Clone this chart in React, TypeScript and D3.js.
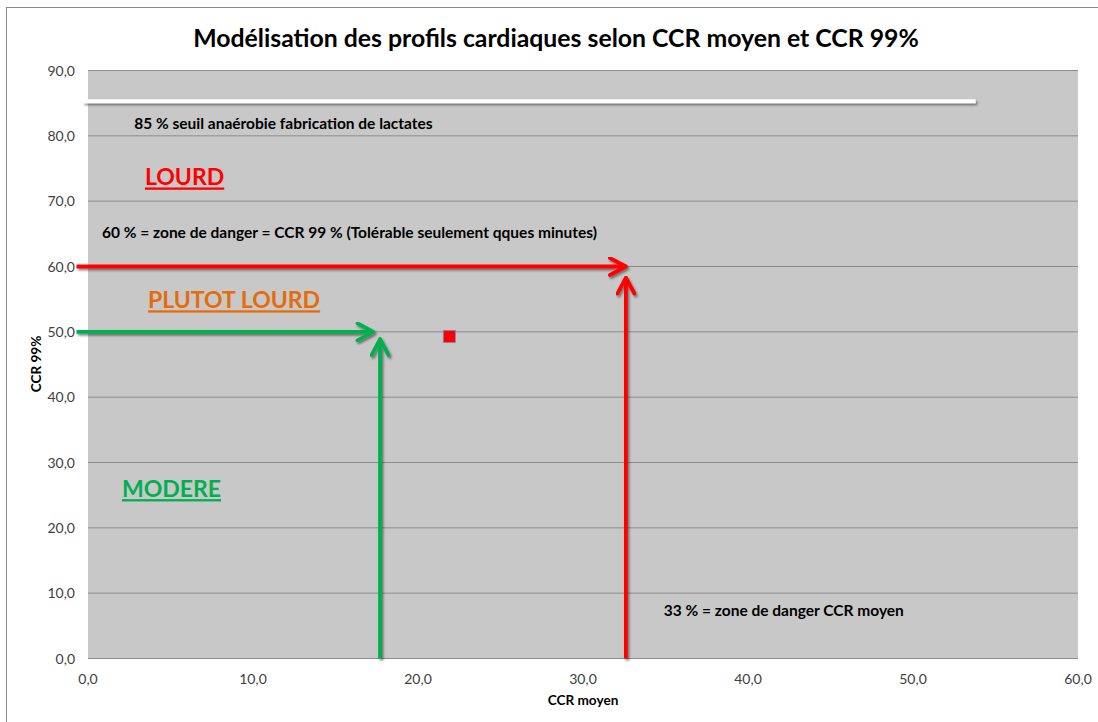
import * as d3 from "d3";

const xTicks = [0, 10, 20, 30, 40, 50, 60];
const yTicks = [0, 10, 20, 30, 40, 50, 60, 70, 80, 90];

// seuil 85 % (ligne blanche)
const seuilPts: [number, number][] = [[-0.3, 85.3], [53.8, 85.3]];
// zone de danger CCR 99 % / CCR moyen (flèches rouges)
const rougeH: [number, number][] = [[-0.7, 60], [32.6, 60]];
const rougeV: [number, number][] = [[32.6, 0], [32.6, 58.3]];
// limite modéré (flèches vertes)
const vertH: [number, number][] = [[-0.7, 50], [17.3, 50]];
const vertV: [number, number][] = [[17.7, 0], [17.7, 48.9]];
// profil mesuré (CCR moyen, CCR 99 %)
const profils: [number, number][] = [[21.9, 49.3]];

const zoneLabels = ["LOURD", "PLUTOT LOURD", "MODERE"];
const zoneAnchors: [number, number][] = [[3.45, 72.4], [3.64, 53.6], [2.06, 24.7]];
const noteLabels = [
  "85 % seuil anaérobie fabrication de lactates",
  "60 % = zone de danger = CCR 99 % (Tolérable seulement qques minutes)",
  "33 % = zone de danger CCR moyen",
];
const noteAnchors: [number, number][] = [[2.8, 81.1], [0.85, 64.3], [34.9, 6.5]];

const W = 1098;
const H = 722;
const FONT = "Lato, 'Open Sans', sans-serif";

const fr = d3.formatLocale({ decimal: ",", thousands: " ", grouping: [3], currency: ["", " €"] });
const fmt = fr.format(".1f");

export default function App() {
  const x = d3.scaleLinear().domain([0, 60]).range([88, 1078]);
  const y = d3.scaleLinear().domain([0, 90]).range([658.5, 70.5]);
  const line = d3.line<[number, number]>().x(d => x(d[0])).y(d => y(d[1]));

  const zoneColors = ["#FF0000", "#E46C0A", "#00B050"];

  return (
    <svg width={W} height={H} style={{ position: "absolute", left: 0, top: 0, background: "#fff" }}>
      <defs>
        <filter id="ombre" x="-10%" y="-10%" width="120%" height="120%">
          <feDropShadow dx="1.5" dy="2" stdDeviation="1.3" floodColor="#000" floodOpacity="0.45" />
        </filter>
        {[["rouge", "#FF0000"], ["vert", "#00B050"]].map(([id, c]) => (
          <marker key={id} id={`fl-${id}`} viewBox="0 0 20 20" refX="18" refY="10"
            markerUnits="userSpaceOnUse" markerWidth="20" markerHeight="20" orient="auto">
            <path d="M2,1.5 L18,10 L2,18.5" fill="none" stroke={c} strokeWidth="3.8" strokeLinecap="round" strokeLinejoin="round" />
          </marker>
        ))}
      </defs>

      <rect x={6.5} y={7.5} width={W + 20} height={H + 20} fill="#fff" stroke="#8a8a8a" strokeWidth={1} />

      <text x={556} y={47} textAnchor="middle" fontFamily={FONT} fontWeight="bold" fontSize={24.8} fill="#000">
        Modélisation des profils cardiaques selon CCR moyen et CCR 99%
      </text>

      <rect x={x(0)} y={y(90)} width={x(60) - x(0)} height={y(0) - y(90)} fill="#C8C8C8" />

      {yTicks.map(t => (
        <g key={t}>
          <line x1={x(0)} x2={x(60)} y1={y(t)} y2={y(t)} stroke="#8C8C8C" strokeWidth={1} />
          <text x={75} y={y(t) + 5} textAnchor="end" fontFamily={FONT} fontSize={14} fill="#404040">{fmt(t)}</text>
        </g>
      ))}
      {xTicks.map(t => (
        <text key={t} x={x(t)} y={684} textAnchor="middle" fontFamily={FONT} fontSize={14} fill="#404040">{fmt(t)}</text>
      ))}

      <text x={583} y={705} textAnchor="middle" fontFamily={FONT} fontWeight="bold" fontSize={13.6} fill="#000">CCR moyen</text>
      <text transform={`translate(41,364) rotate(-90)`} textAnchor="middle" fontFamily={FONT} fontWeight="bold" fontSize={13.6} fill="#000">CCR 99%</text>

      <g filter="url(#ombre)">
        <path d={line(seuilPts) ?? ""} fill="none" stroke="#fff" strokeWidth={4} />
        <path d={line(rougeH) ?? ""} fill="none" stroke="#FF0000" strokeWidth={3.8} markerEnd="url(#fl-rouge)" />
        <path d={line(rougeV) ?? ""} fill="none" stroke="#FF0000" strokeWidth={3.8} markerEnd="url(#fl-rouge)" />
        <path d={line(vertH) ?? ""} fill="none" stroke="#00B050" strokeWidth={3.8} markerEnd="url(#fl-vert)" />
        <path d={line(vertV) ?? ""} fill="none" stroke="#00B050" strokeWidth={3.8} markerEnd="url(#fl-vert)" />
      </g>

      {profils.map((p, i) => (
        <rect key={i} x={x(p[0]) - 6} y={y(p[1]) - 6} width={12} height={12} fill="#FF0000" stroke="#8080C0" strokeWidth={0.8} />
      ))}

      {noteLabels.map((s, i) => (
        <text key={s} x={x(noteAnchors[i][0])} y={y(noteAnchors[i][1])} fontFamily={FONT} fontWeight="bold" fontSize={15.5} fill="#000">{s}</text>
      ))}

      {zoneLabels.map((s, i) => (
        <text key={s} x={x(zoneAnchors[i][0])} y={y(zoneAnchors[i][1])} fontFamily={FONT} fontWeight="bold" fontSize={23}
          fill={zoneColors[i]} textDecoration="underline">{s}</text>
      ))}
    </svg>
  );
}
